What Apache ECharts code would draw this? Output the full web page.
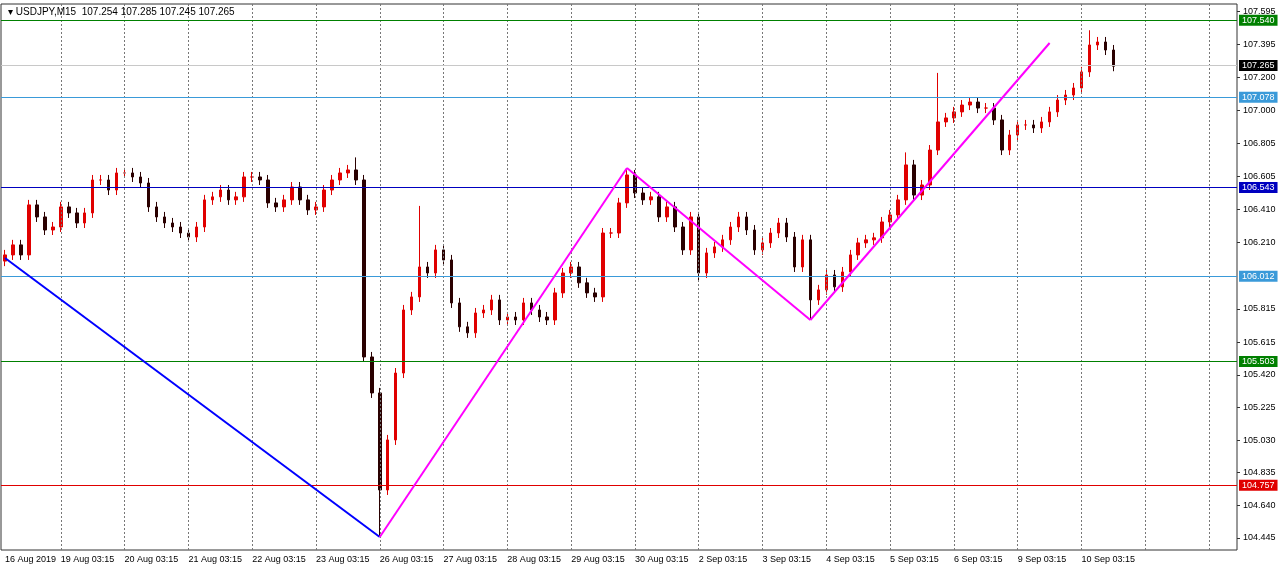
<!DOCTYPE html>
<html><head><meta charset="utf-8">
<script src="https://cdn.jsdelivr.net/npm/echarts@6/dist/echarts.min.js"></script>
<style>html,body{margin:0;padding:0;background:#fff}#c{width:1280px;height:567px}</style>
</head><body><div id="c"></div>
<script>
const closes = [106.137,106.197,106.137,106.436,106.364,106.286,106.304,106.424,106.388,106.328,
106.388,106.585,106.585,106.525,106.627,106.627,106.603,106.567,106.424,106.364,
106.328,106.304,106.268,106.244,106.304,106.466,106.484,106.525,106.466,106.484,
106.603,106.603,106.585,106.448,106.424,106.466,106.543,106.466,106.406,106.424,
106.525,106.585,106.627,106.645,106.585,105.527,105.312,104.732,105.031,105.431,
105.808,105.886,106.065,106.029,106.167,106.107,105.850,105.707,105.671,105.790,
105.808,105.868,105.748,105.766,105.748,105.850,105.808,105.766,105.748,105.910,
106.029,106.065,105.970,105.910,105.886,106.268,106.268,106.448,106.615,106.507,
106.466,106.484,106.364,106.424,106.304,106.167,106.364,106.029,106.149,106.185,
106.227,106.304,106.364,106.286,106.167,106.209,106.268,106.328,106.244,106.065,
106.227,105.868,105.928,106.017,105.946,106.035,106.137,106.209,106.227,106.239,
106.334,106.376,106.466,106.675,106.495,106.555,106.764,106.932,106.956,106.992,
107.033,107.051,107.015,107.015,106.944,106.764,106.854,106.914,106.914,106.896,
106.932,106.992,107.063,107.093,107.135,107.231,107.392,107.410,107.362,107.265];
const firstOpen = 106.100;
const wickSpikes = {44:{h:106.72},47:{l:104.451},52:{h:106.43},101:{l:105.75},117:{h:107.225},136:{h:107.48},113:{h:106.75},87:{l:105.98}};
const dayLabels = ['16 Aug 2019','19 Aug 03:15','20 Aug 03:15','21 Aug 03:15','22 Aug 03:15','23 Aug 03:15','26 Aug 03:15','27 Aug 03:15','28 Aug 03:15','29 Aug 03:15','30 Aug 03:15','2 Sep 03:15','3 Sep 03:15','4 Sep 03:15','5 Sep 03:15','6 Sep 03:15','9 Sep 03:15','10 Sep 03:15'];
const yTicks = [107.595,107.395,107.200,107.000,106.805,106.605,106.410,106.210,105.815,105.615,105.420,105.225,105.030,104.835,104.640,104.445];
const levels = [[107.540,'#008000'],[107.078,'#3a9ad9'],[106.543,'#0000c0'],[106.012,'#3a9ad9'],[105.503,'#008000'],[104.757,'#e00000']];
const lastPrice = 107.265;
const blueTrend = [[0,106.119],[46.9,104.451]];
const magentaTrend = [[47.3,104.451],[78.4,106.657],[100.7,105.748],[130.6,107.404]];

const N = 155;
const cats = [];
for (let i=0;i<N;i++){
  let lab='';
  if(i===0) lab=dayLabels[0];
  else if((i-7)%8===0 && (i-7)/8+1<dayLabels.length) lab=dayLabels[(i-7)/8+1];
  cats.push(lab);
}
const candles = closes.map((c,i)=>{
  const o = i===0?firstOpen:closes[i-1];
  let h=Math.max(o,c)+0.03, l=Math.min(o,c)-0.03;
  const s=wickSpikes[i]; if(s){ if(s.h) h=s.h; if(s.l) l=s.l; }
  return [o,c,l,h];
});
const vl=[]; for(let i=7;i<N;i+=8) vl.push({xAxis:i});

function hLine(v,c,bg,txt){
  return {type:'line',data:[],silent:true,markLine:{symbol:['none','none'],silent:true,animation:false,
    lineStyle:{color:c,width:1,type:'solid'},
    label:{show:true,position:'end',distance:2,formatter:v.toFixed(3),color:txt||'#fff',backgroundColor:bg,padding:[1,3],fontSize:9,fontFamily:'Liberation Sans'},
    data:[{yAxis:v}]}};
}
const series=[{type:'candlestick',data:candles,barWidth:3,
  itemStyle:{color:'#e00000',color0:'#2a0000',borderColor:'#e00000',borderColor0:'#2a0000'},
  markLine:{symbol:['none','none'],silent:true,animation:false,label:{show:false},lineStyle:{color:'#777',type:[2,2],width:1},data:vl}}];
series.push(hLine(lastPrice,'#c8c8c8','#000'));
levels.forEach(([v,c])=>series.push(hLine(v,c,c)));
series.push({type:'line',data:[],silent:true,markLine:{symbol:['none','none'],silent:true,animation:false,label:{show:false},
  lineStyle:{color:'#0000ff',width:2,type:'solid'},data:[[{coord:blueTrend[0]},{coord:blueTrend[1]}]]}});
const mseg=[]; for(let k=0;k<magentaTrend.length-1;k++) mseg.push([{coord:magentaTrend[k]},{coord:magentaTrend[k+1]}]);
series.push({type:'line',data:[],silent:true,markLine:{symbol:['none','none'],silent:true,animation:false,label:{show:false},
  lineStyle:{color:'#ff00ff',width:2,type:'solid'},data:mseg}});

const chart=echarts.init(document.getElementById('c'));
chart.setOption({
  animation:false,
  backgroundColor:'#fff',
  title:{text:'▾ USDJPY,M15  107.254 107.285 107.245 107.265',left:3,top:2,textStyle:{fontSize:10,fontWeight:'normal',color:'#000',fontFamily:'Liberation Sans'}},
  grid:{left:1,right:43,top:4,bottom:17,show:true,borderColor:'#333',borderWidth:1},
  xAxis:{type:'category',data:cats,boundaryGap:true,axisLine:{show:false},axisTick:{show:false},splitLine:{show:false},
    axisLabel:{interval:0,fontSize:9,color:'#000',align:'left',margin:5,fontFamily:'Liberation Sans'}},
  yAxis:{type:'value',position:'right',min:104.373,max:107.637,splitLine:{show:false},axisLine:{show:false},
    axisTick:{show:true,length:3,customValues:yTicks,lineStyle:{color:'#333'}},
    axisLabel:{show:true,customValues:yTicks,formatter:v=>v.toFixed(3),fontSize:9,color:'#000',margin:6,fontFamily:'Liberation Sans'}},
  series:series
});
</script></body></html>
